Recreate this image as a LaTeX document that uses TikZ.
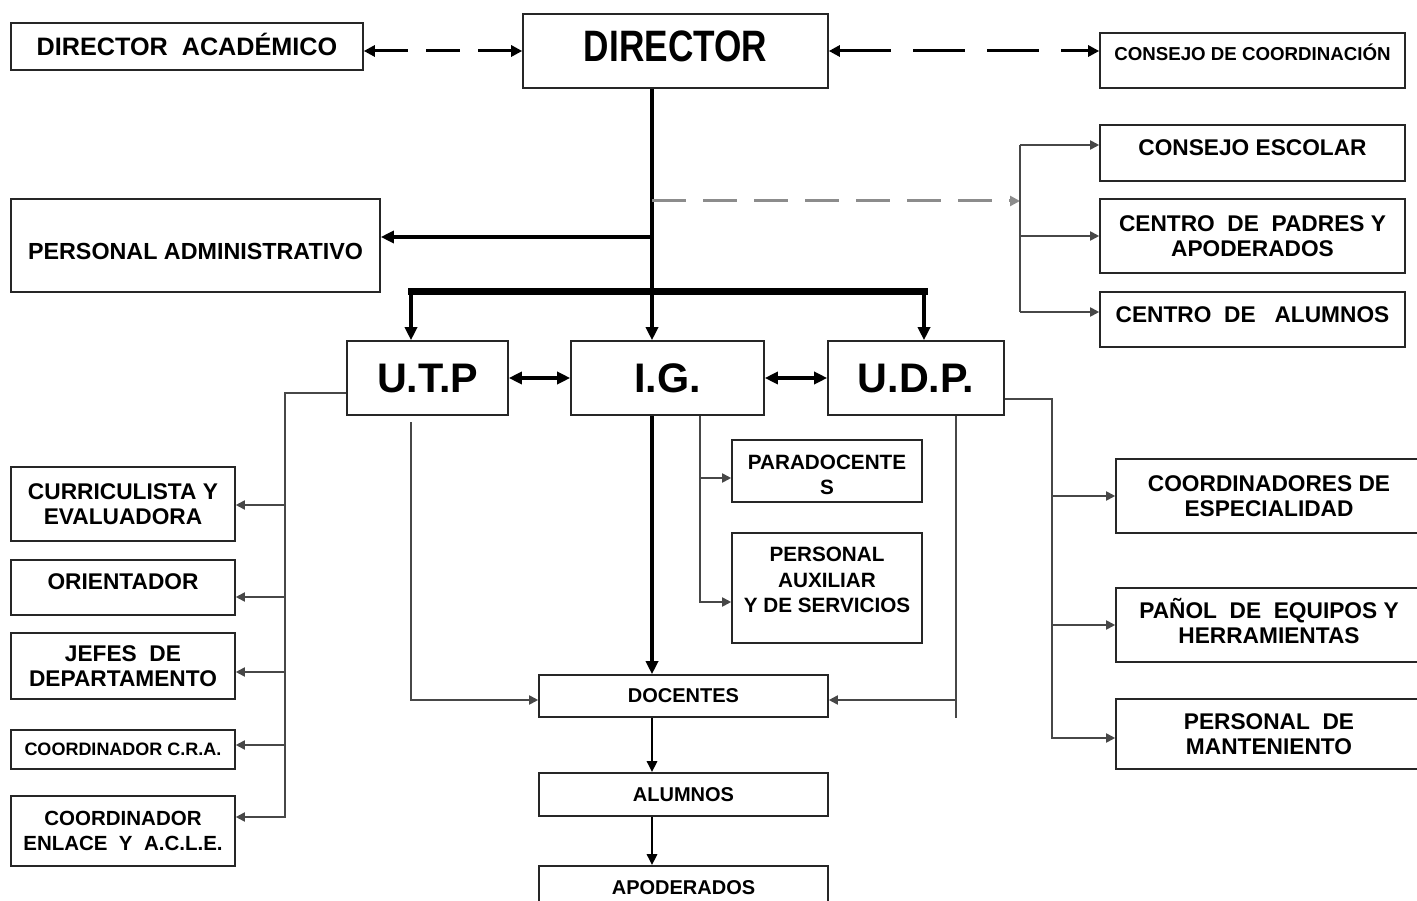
\documentclass[tikz,border=0pt]{standalone}
\usepackage{fontspec}
\setmainfont{Liberation Sans}
\newfontfamily\narrowsans{Liberation Sans}[FakeStretch=0.8]
\usetikzlibrary{arrows.meta}

\begin{document}
\begin{tikzpicture}[x=1pt, y=-1pt,
    box/.style = {draw=black!85, line width=1.6pt, fill=white,
      inner sep=0pt, align=center},
    sz/.style 2 args = {minimum width=#1pt, minimum height=#2pt},
    lift/.style 2 args = {text height=#1pt, text depth=#2pt},
    labtxt/.style = {font=\fontsize{22.7}{25}\selectfont\bfseries},
    bigtxt/.style = {font=\fontsize{41.3}{44}\selectfont\bfseries},
    smalltxt/.style = {font=\fontsize{20}{22}\selectfont\bfseries},
    mainln/.style = {line width=3.5pt, -{Triangle[length=13pt,width=12pt]}},
    midln/.style = {line width=2.6pt, -{Triangle[length=11pt,width=10pt]}},
    bothln/.style = {line width=3.5pt,
      {Triangle[length=13pt,width=12pt]}-{Triangle[length=13pt,width=12pt]}},
    subln/.style = {draw=black!72, line width=1.8pt,
      -{Triangle[length=9pt,width=9pt]}},
    dashln/.style = {line width=3pt, dash pattern=on 34pt off 18pt,
      {Triangle[length=11pt,width=11pt]}-{Triangle[length=11pt,width=11pt]}},
    grdash/.style = {draw=black!45, line width=3pt, dash pattern=on 34pt off 17pt,
      -{Triangle[length=10pt,width=10pt]}}]
  \useasboundingbox (0,0) rectangle (1417,901);
  \clip (0,0) rectangle (1417,901);

  % top row
  \node[box, sz={352}{47}, lift={18}{0},
    font=\fontsize{25.2}{28}\selectfont\bfseries] (DA) at (187,46.5) {DIRECTOR\ \ ACADÉMICO};
  \node[box, sz={305}{74}, lift={31.5}{10},
    font=\narrowsans\fontsize{44}{48}\selectfont\bfseries] (DIR) at (675.5,51) {DIRECTOR};
  \node[box, sz={305}{55}, lift={13.4}{14},
    font=\fontsize{18.7}{21}\selectfont\bfseries] (CC) at (1252.5,60.5) {CONSEJO DE COORDINACIÓN};

  % right group
  \node[box, sz={305}{56}, lift={16.2}{11}, labtxt] (CE) at (1252.5,153) {CONSEJO ESCOLAR};
  \node[box, sz={305}{74}, labtxt] (CP) at (1252.5,236) {CENTRO\ \ DE\ \ PADRES Y\\APODERADOS};
  \node[box, sz={305}{55}, lift={16.2}{11}, labtxt] (CA) at (1252.5,319.5) {CENTRO\ \ DE\ \ \ ALUMNOS};
  \node[box, sz={369}{93}, lift={27.7}{0},
    font=\fontsize{23.3}{26}\selectfont\bfseries] (PA) at (195.5,245.5) {PERSONAL ADMINISTRATIVO};

  % units
  \node[box, sz={161}{74}, bigtxt] (UTP) at (427.5,378) {U.T.P};
  \node[box, sz={193}{74}, bigtxt] (IG) at (667.5,378) {I.G.};
  \node[box, sz={176}{74}, bigtxt] (UDP) at (916,378) {U.D.P.};

  % under I.G.
  \node[box, sz={190}{62}, lift={46.8}{0},
    font=\fontsize{20.7}{25}\selectfont\bfseries] (PAR) at (827,471) {PARADOCENTE\\S};
  \node[box, sz={190}{110}, lift={49.8}{0},
    font=\fontsize{20.7}{25.5}\selectfont\bfseries] (AUX) at (827,588) {PERSONAL\\AUXILIAR\\Y DE SERVICIOS};
  \node[box, sz={289}{42}, smalltxt] (DOC) at (683.5,696) {DOCENTES};
  \node[box, sz={289}{43}, smalltxt] (ALU) at (683.5,794.5) {ALUMNOS};
  \node[box, sz={289}{43}, smalltxt] (APO) at (683.5,887.5) {APODERADOS};

  % under U.T.P.
  \node[box, sz={224}{74}, labtxt] (CUR) at (123,504) {CURRICULISTA Y\\EVALUADORA};
  \node[box, sz={224}{55}, lift={16.2}{13}, labtxt] (ORI) at (123,587.5) {ORIENTADOR};
  \node[box, sz={224}{66}, labtxt] (JEF) at (123,666) {JEFES\ \ DE\\DEPARTAMENTO};
  \node[box, sz={224}{39}, font=\fontsize{18}{20}\selectfont\bfseries] (CRA) at (123,749.5) {COORDINADOR C.R.A.};
  \node[box, sz={224}{70}, font=\fontsize{20.5}{25}\selectfont\bfseries] (ENL) at (123,831) {COORDINADOR\\ENLACE\ \ Y\ \ A.C.L.E.};

  % under U.D.P.
  \node[box, sz={306}{74}, labtxt] (COE) at (1269,496) {COORDINADORES DE\\ESPECIALIDAD};
  \node[box, sz={306}{74}, lift={36.2}{0}, labtxt] (PAN) at (1269,625) {PAÑOL\ \ DE\ \ EQUIPOS Y\\HERRAMIENTAS};
  \node[box, sz={306}{70}, labtxt] (MAN) at (1269,734) {PERSONAL\ \ DE\\MANTENIENTO};

  % junctions
  \coordinate (sp) at (652,0);
  \coordinate (jd) at (652,201);
  \coordinate (ja) at (652,237);
  \coordinate (bl) at (411,292);
  \coordinate (br) at (924,292);
  \coordinate (ra) at (1020,145);
  \coordinate (rm) at (1020,201);
  \coordinate (rb) at (1020,312);
  \coordinate (ul) at (285,393);
  \coordinate (ulb) at (285,817);
  \coordinate (ut) at (411,422);
  \coordinate (uc) at (411,700);
  \coordinate (ic) at (700,602);
  \coordinate (ip) at (700,478);
  \coordinate (dc) at (956,700);
  \coordinate (de) at (956,718);
  \coordinate (dr) at (1052,399);
  \coordinate (drb) at (1052,738);

  % director links
  \draw[dashln] (DA.east |- DIR.west) -- (DIR.west);
  \draw[dashln, dash pattern=on 52pt off 22pt] (DIR.east) -- (DIR.east -| CC.west);
  \draw[mainln] (sp |- DIR.south) -- (sp |- IG.north);
  \draw[grdash] (jd) -- (rm);
  \draw[subln, -] (ra) -- (rb);
  \draw[subln] (ra) -- (ra -| CE.west);
  \draw[subln] (ra |- CP.west) -- (CP.west);
  \draw[subln] (rb) -- (rb -| CA.west);
  \draw[mainln] (ja) -- (ja -| PA.east);
  \draw[line width=7pt, line cap=rect] (bl) -- (br);
  \draw[mainln] (bl) -- (bl |- UTP.north);
  \draw[mainln] (br) -- (br |- UDP.north);
  \draw[bothln] (UTP.east) -- (IG.west);
  \draw[bothln] (IG.east) -- (UDP.west);

  % U.T.P.
  \draw[subln] (UTP.west |- ul) -- (ul) -- (ulb) -- (ulb -| ENL.east);
  \foreach \n/\y in {CUR/505, ORI/597, JEF/672, CRA/745}
    \draw[subln] (ul |- 0,\y) -- (\n.east |- 0,\y);
  \draw[subln] (ut) -- (uc) -- (uc -| DOC.west);

  % I.G.
  \draw[mainln] (sp |- IG.south) -- (sp |- DOC.north);
  \draw[subln] (ic |- IG.south) -- (ic) -- (ic -| AUX.west);
  \draw[subln] (ip) -- (ip -| PAR.west);

  % U.D.P.
  \draw[subln, -] (de |- UDP.south) -- (de);
  \draw[subln] (dc) -- (dc -| DOC.east);
  \draw[subln] (UDP.east |- dr) -- (dr) -- (drb) -- (drb -| MAN.west);
  \draw[subln] (dr |- COE.west) -- (COE.west);
  \draw[subln] (dr |- PAN.west) -- (PAN.west);

  % docentes down
  \draw[midln] (sp |- DOC.south) -- (sp |- ALU.north);
  \draw[midln] (sp |- ALU.south) -- (sp |- APO.north);
\end{tikzpicture}
\end{document}
